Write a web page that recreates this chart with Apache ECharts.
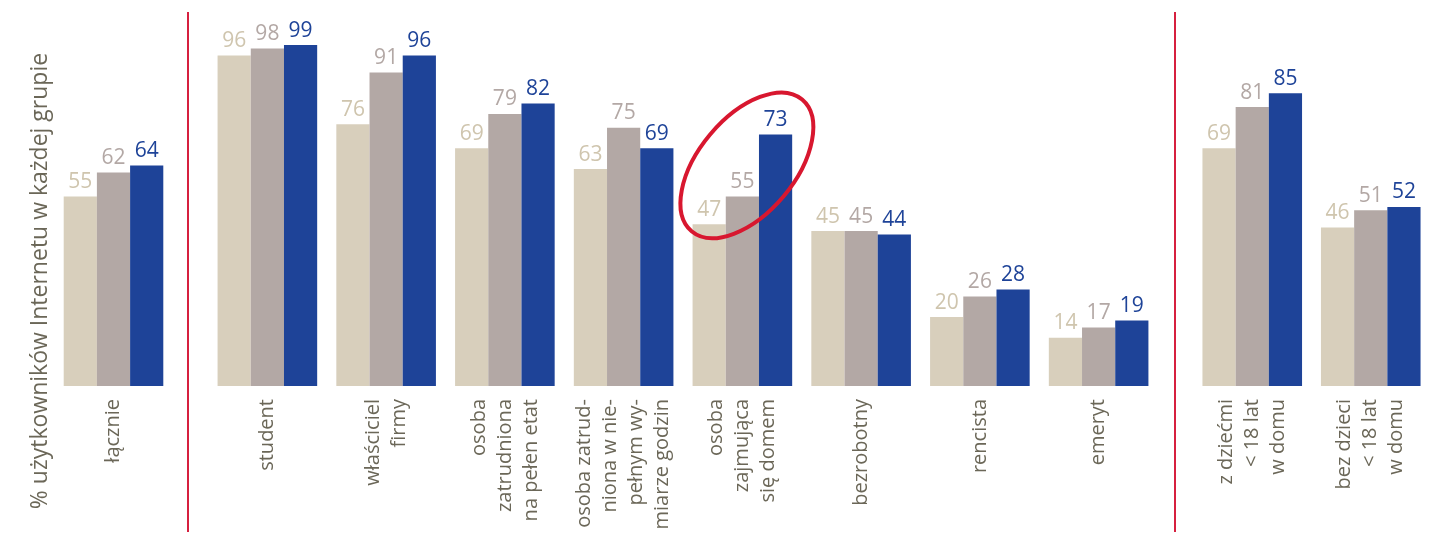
<!DOCTYPE html>
<html>
<head>
<meta charset="utf-8">
<script src="https://cdn.jsdelivr.net/npm/echarts@6/dist/echarts.min.js"></script>
<style>
  html, body { margin: 0; padding: 0; background: #ffffff; }
  #chart { width: 1449px; height: 546px; }
</style>
</head>
<body>
<div id="chart"></div>
<script>
// Grupy respondentów (etykiety osi kategorii)
const categories = [
  'łącznie',
  'student',
  'właściciel\nfirmy',
  'osoba\nzatrudniona\nna pełen etat',
  'osoba zatrud-\nniona w nie-\npełnym wy-\nmiarze godzin',
  'osoba\nzajmująca\nsię domem',
  'bezrobotny',
  'rencista',
  'emeryt',
  'z dziećmi\n< 18 lat\nw domu',
  'bez dzieci\n< 18 lat\nw domu'
];

// % użytkowników Internetu w każdej grupie, trzy kolejne pomiary
const pomiar1 = [55, 96, 76, 69, 63, 47, 45, 20, 14, 69, 46];
const pomiar2 = [62, 98, 91, 79, 75, 55, 45, 26, 17, 81, 51];
const pomiar3 = [64, 99, 96, 82, 69, 73, 44, 28, 19, 85, 52];

const seriesNames = ['pomiar 1', 'pomiar 2', 'pomiar 3'];
const seriesValues = [pomiar1, pomiar2, pomiar3];
const barColors = ['#d8cfbc', '#b3a8a5', '#1e4398'];
const labelColors = ['#cfc5ae', '#b3a8a5', '#1e4398'];

// Trzy panele: ogółem | status zawodowy | dzieci w domu
const panels = [
  { from: 0, to: 1, left: 54, width: 119 },
  { from: 1, to: 9, left: 208, width: 950 },
  { from: 9, to: 11, left: 1193, width: 237 }
];

const FONT = '"Open Sans", "Noto Sans", sans-serif';
const GRID_TOP = 41.6;
const GRID_BOTTOM = 160;

const grid = [], xAxis = [], yAxis = [], series = [];
panels.forEach((p, i) => {
  grid.push({ left: p.left, width: p.width, top: GRID_TOP, bottom: GRID_BOTTOM, containLabel: false });
  xAxis.push({
    type: 'category',
    gridIndex: i,
    data: categories.slice(p.from, p.to),
    axisLine: { show: false },
    axisTick: { show: false },
    axisLabel: {
      rotate: 90,
      margin: 13,
      interval: 0,
      color: '#6b6758',
      fontFamily: FONT,
      fontSize: 20,
      lineHeight: 26
    }
  });
  yAxis.push({
    type: 'value',
    gridIndex: i,
    min: 0,
    max: 100,
    show: false,
    splitLine: { show: false }
  });
  seriesValues.forEach((vals, k) => {
    series.push({
      name: seriesNames[k],
      type: 'bar',
      xAxisIndex: i,
      yAxisIndex: i,
      data: vals.slice(p.from, p.to),
      barWidth: 33.2,
      barGap: '0%',
      itemStyle: { color: barColors[k] },
      label: {
        show: true,
        position: 'top',
        distance: 4,
        color: labelColors[k],
        fontFamily: FONT,
        fontSize: 21
      },
      animation: false
    });
  });
});

const staticGraphics = [
  // tytuł osi wartości
  {
    id: 'yTitle',
    type: 'text',
    x: 40, y: 281,
    rotation: Math.PI / 2,
    style: {
      text: '% użytkowników Internetu w każdej grupie',
      font: '23px ' + FONT,
      fill: '#6b6758',
      align: 'center',
      verticalAlign: 'middle'
    }
  },
  // pionowe linie oddzielające panele
  { id: 'sep1', type: 'line', shape: { x1: 188, y1: 12, x2: 188, y2: 532 }, style: { stroke: '#d6203f', lineWidth: 2 } },
  { id: 'sep2', type: 'line', shape: { x1: 1175, y1: 12, x2: 1175, y2: 532 }, style: { stroke: '#d6203f', lineWidth: 2 } }
];

const chart = echarts.init(document.getElementById('chart'), null, { renderer: 'canvas' });
chart.setOption({
  backgroundColor: '#ffffff',
  animation: false,
  grid, xAxis, yAxis, series,
  graphic: staticGraphics
});

// wyróżnienie grupy „osoba zajmująca się domem” elipsą wokół jej słupków
const hi = 5;
const ptLow = chart.convertToPixel({ xAxisIndex: 1, yAxisIndex: 1 }, [categories[hi], pomiar1[hi]]);
const ptHigh = chart.convertToPixel({ xAxisIndex: 1, yAxisIndex: 1 }, [categories[hi], pomiar3[hi]]);
const cx = ptLow[0] + 4.5;
const cy = (ptLow[1] + ptHigh[1]) / 2 - 14;
chart.setOption({
  graphic: staticGraphics.concat([
    {
      id: 'highlight',
      type: 'ellipse',
      x: cx, y: cy,
      rotation: 50 * Math.PI / 180,
      shape: { cx: 0, cy: 0, rx: 86, ry: 48 },
      style: { fill: 'none', stroke: '#d8172f', lineWidth: 4 },
      z: 100
    }
  ])
});
</script>
</body>
</html>
